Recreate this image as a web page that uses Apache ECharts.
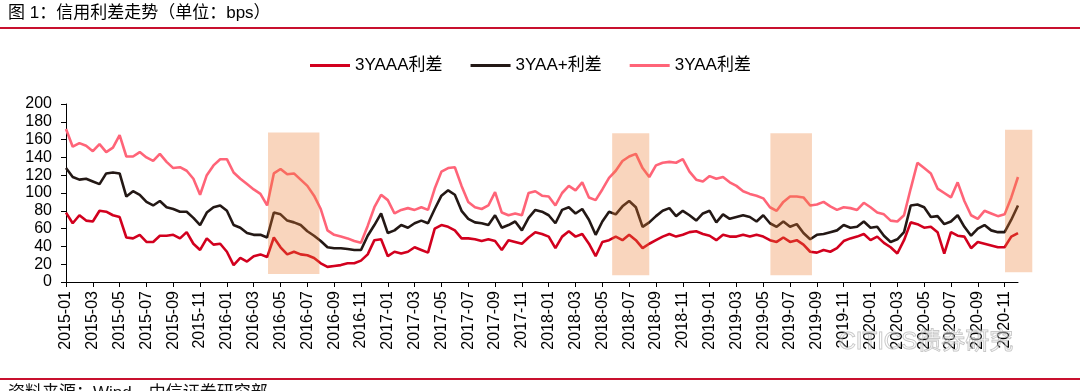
<!DOCTYPE html>
<html>
<head>
<meta charset="utf-8">
<script src="https://cdn.jsdelivr.net/npm/echarts@6/dist/echarts.min.js"></script>
<style>
html,body{margin:0;padding:0;background:#fff;}
#c{width:1080px;height:391px;}
</style>
</head>
<body>
<div id="c"></div>
<script>
// Half-month sampling from 2015-01 to 2020-11, last point ~ end of Nov 2020
const startYear = 2015;
const seriesNames = ['3YAAA利差', '3YAA+利差', '3YAA利差'];
const tickLabels = ['2015-01','2015-03','2015-05','2015-07','2015-09','2015-11',
  '2016-01','2016-03','2016-05','2016-07','2016-09','2016-11',
  '2017-01','2017-03','2017-05','2017-07','2017-09','2017-11',
  '2018-01','2018-03','2018-05','2018-07','2018-09','2018-11',
  '2019-01','2019-03','2019-05','2019-07','2019-09','2019-11',
  '2020-01','2020-03','2020-05','2020-07','2020-09','2020-11'];

const aaa = [
  78,66,75,69,68,80,79,75,73,50,49,53,45,45,52,52,53,49,56,43,36,49,42,43,
  34,19,27,23,29,31,28,50,39,31,34,31,30,27,21,17,18,19,21,21,24,31,47,48,
  29,34,32,34,39,36,33,60,64,62,58,49,49,48,46,48,46,36,47,45,43,50,56,54,
  51,38,51,57,51,54,43,29,45,47,51,47,53,47,38,43,47,51,54,51,53,56,57,54,
  52,47,53,51,51,53,51,53,51,47,45,50,45,47,42,34,33,36,34,38,46,49,51,54,
  47,51,44,39,32,47,67,65,61,62,56,32,56,52,51,38,45,43,41,39,39,51,55];
const aaPlus = [
  128,118,115,116,113,110,122,123,122,96,102,98,90,86,91,84,82,79,79,72,64,78,84,86,
  80,64,61,55,53,53,50,78,76,69,67,64,57,52,46,39,38,38,37,36,36,52,64,77,
  55,58,64,61,66,69,66,82,97,103,98,80,71,67,66,64,75,61,64,68,58,72,81,79,
  75,66,81,84,77,82,70,53,68,79,76,85,91,84,62,67,74,80,83,74,80,75,69,77,
  80,67,76,71,73,75,73,68,75,66,62,68,62,65,55,48,53,54,56,58,64,61,62,68,
  61,62,52,45,48,56,86,87,84,73,74,65,68,75,62,52,60,64,58,56,56,70,86];
const aa = [
  172,152,156,153,147,155,146,151,165,141,141,146,140,136,144,135,128,129,125,116,98,120,131,138,
  138,123,116,110,104,99,86,122,127,121,122,115,108,97,82,58,53,51,49,46,44,63,84,98,
  92,77,81,83,81,84,81,105,124,128,129,108,90,84,82,86,101,78,75,77,75,100,102,97,
  96,86,100,108,103,112,95,92,104,117,125,136,141,144,128,118,131,134,135,134,138,124,115,113,
  119,116,118,112,108,102,99,97,94,84,80,90,96,96,95,86,87,90,85,81,84,83,81,89,
  84,78,76,69,68,75,105,134,128,122,105,100,95,112,91,75,71,80,77,74,76,95,118];

// shaded periods: [start date, end date, top, bottom]
const shaded = [
  ['2016-04-03','2016-07-28',168,9],
  ['2018-05-23','2018-08-16',167,7.5],
  ['2019-05-17','2019-08-20',167,7.5],
  ['2020-11-02','2021-01-03',171,11]
];

// categories: half-month dates
const categories = [];
for (let i = 0; i < aa.length; i++) {
  const mi = Math.floor(i / 2);
  const y = startYear + Math.floor(mi / 12);
  const mo = (mi % 12) + 1;
  categories.push(y + '-' + String(mo).padStart(2, '0') + '-' + (i % 2 ? '16' : '01'));
}
function dateToIndex(s) {
  const [y, m, d] = s.split('-').map(Number);
  const mi = (y - startYear) * 12 + (m - 1) + (d - 1) / 30;
  return mi * 2;
}

const FONT = '"Liberation Sans", Arial, "Noto Sans CJK SC", sans-serif';
const chart = echarts.init(document.getElementById('c'));
const labelSet = new Set(tickLabels);

chart.setOption({
  animation: false,
  backgroundColor: '#fff',
  textStyle: {fontFamily: FONT},
  grid: {left: 66, right: 62, top: 104, bottom: 109},
  legend: {
    left: 305, top: 52, itemWidth: 40, itemHeight: 3, itemGap: 28, icon: 'rect',
    textStyle: {fontSize: 17, color: '#000', fontFamily: FONT},
    data: seriesNames
  },
  xAxis: [{
    type: 'category', data: categories, boundaryGap: false,
    axisLine: {lineStyle: {color: '#000', width: 1}},
    axisTick: {show: true, length: 5, interval: 3, lineStyle: {color: '#000'}},
    axisLabel: {interval: 3, rotate: 90, margin: 9, fontSize: 16, color: '#000', fontFamily: FONT,
      formatter: v => { const s = v.slice(0, 7); return labelSet.has(s) ? s : ''; }},
    splitLine: {show: false}
  }, {
    type: 'value', min: 0, max: categories.length - 1, show: false
  }],
  yAxis: {
    type: 'value', min: 0, max: 200, interval: 20,
    axisLine: {show: true, lineStyle: {color: '#000', width: 1}},
    axisTick: {show: true, length: 5, lineStyle: {color: '#000'}},
    axisLabel: {fontSize: 16, color: '#000', margin: 14, fontFamily: FONT},
    splitLine: {show: false}
  },
  series: [
    {name: seriesNames[2], type: 'line', data: aa, symbol: 'none',
     lineStyle: {color: '#FF6478', width: 2.6}, itemStyle: {color: '#FF6478'}},
    {name: seriesNames[1], type: 'line', data: aaPlus, symbol: 'none',
     lineStyle: {color: '#231815', width: 2.6}, itemStyle: {color: '#231815'}},
    {name: seriesNames[0], type: 'line', data: aaa, symbol: 'none',
     lineStyle: {color: '#D2001E', width: 2.6}, itemStyle: {color: '#D2001E'}},
    {name: 'shade', type: 'custom', xAxisIndex: 1, yAxisIndex: 0, z: 10, silent: true, clip: false,
     data: shaded.map(s => [dateToIndex(s[0]), dateToIndex(s[1]), s[2], s[3]]),
     encode: {x: [0, 1], y: [2, 3]},
     renderItem: (params, api) => {
       const p0 = api.coord([api.value(0), api.value(2)]);
       const p1 = api.coord([api.value(1), api.value(3)]);
       return {type: 'rect', shape: {x: p0[0], y: p0[1], width: p1[0] - p0[0], height: p1[1] - p0[1]},
         style: {fill: 'rgba(237,125,49,0.32)'}};
     }}
  ],
  graphic: [
    {type: 'text', left: 8, top: 5, style: {text: '图 1：信用利差走势（单位：bps）', font: '17px ' + FONT, fill: '#000'}},
    {type: 'rect', shape: {x: 0, y: 27, width: 1080, height: 2}, style: {fill: '#C8102E'}},
    {type: 'rect', shape: {x: 0, y: 378, width: 1080, height: 2}, style: {fill: '#C8102E'}},
    {type: 'text', left: 8, top: 385, style: {text: '资料来源：Wind，中信证券研究部', font: '17px ' + FONT, fill: '#111'}},
    {type: 'text', left: 838, top: 330, z: 20, style: {text: 'CITICS债券研究', font: '24px ' + FONT, fill: 'rgba(255,255,255,0.3)', stroke: 'rgba(150,150,150,0.6)', lineWidth: 1}}
  ]
});
</script>
</body>
</html>
